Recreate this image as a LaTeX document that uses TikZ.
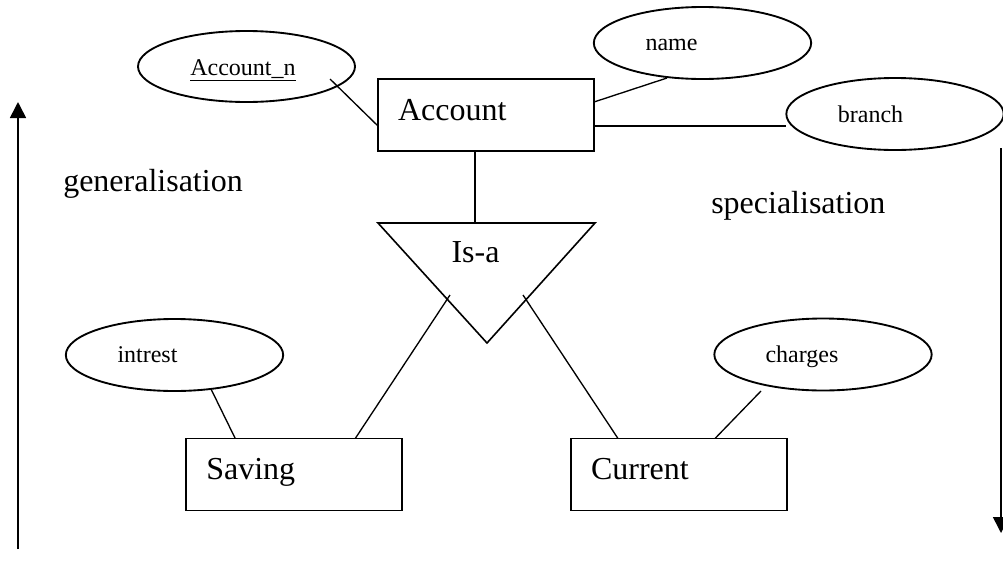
\documentclass[tikz,border=0pt]{standalone}
\usepackage{fontspec}
\setmainfont{Liberation Serif}
\usetikzlibrary{arrows.meta,shapes.geometric}
\begin{document}
\begin{tikzpicture}[x=0.75pt,y=-0.75pt,
  entity/.style={draw,rectangle,line width=1.4pt,minimum height=54pt,text width=132pt,inner xsep=15pt,inner ysep=0pt,outer sep=0pt,align=left,text height=16pt,text depth=8.5pt,font=\fontsize{24}{28}\selectfont},
  attr/.style={draw,ellipse,line width=1.4pt,minimum width=163pt,minimum height=54pt,inner sep=0pt,outer sep=0pt},
  attrtext/.style={anchor=base,inner sep=0pt,font=\fontsize{18}{21}\selectfont},
  bigtext/.style={anchor=base west,inner sep=0pt,font=\fontsize{24}{28}\selectfont},
  link/.style={line width=1pt},
  dirarrow/.style={line width=1.2pt,-{Triangle[length=12pt,width=12pt]}}
]
\fill[white] (0,0) rectangle (1003,561);
\useasboundingbox (0,0) rectangle (1003,561);

% attributes
\node[attr,minimum width=162.75pt,minimum height=53.25pt] (acctn) at (246.5,66.5) {};
\node[attrtext] (acctnt) at ([shift={(-3.5,8.5)}]acctn.center) {\underline{Account\_n}};
\node[attr] (name) at (702.5,43) {};
\node[attrtext] (namet) at ([shift={(-31,7)}]name.center) {name};
\node[attr] (branch) at (895,114) {};
\node[attrtext] (brancht) at ([shift={(-24.5,8)}]branch.center) {branch};
\node[attr] (intrest) at (174.5,355) {};
\node[attrtext] (intrestt) at ([shift={(-27,7)}]intrest.center) {intrest};
\node[attr] (charges) at (823,354.5) {};
\node[attrtext] (chargest) at ([shift={(-21,7.5)}]charges.center) {charges};

% entities
\node[entity] (acc) at (486,115) {Account};
\node[entity] (sav) at (294.25,474.5) {Saving};
\node[entity] (cur) at (679,474.5) {Current};

% is-a triangle
\coordinate (isaL) at (378,223);
\coordinate (isaR) at (595,223);
\coordinate (isaB) at (487,343);
\draw[line width=1.2pt,line join=miter] (isaL) -- (isaR) -- (isaB) -- cycle;
\node[bigtext,anchor=base] (isa) at (475.5,262) {Is-a};

% connectors
\coordinate (an1) at ([shift={(83.5,12.5)}]acctn.center);
\draw[link] (an1) -- ([shift={(0,11)}]acc.west);
\coordinate (nm1) at ([shift={(-35.5,35)}]name.center);
\draw[link] (nm1) -- ([shift={(0,-13)}]acc.east);
\coordinate (br1) at ([shift={(0,11)}]acc.east);
\draw[link] (br1) -- (br1 -| branch.west);
\coordinate (ac1) at ([shift={(-11,0)}]acc.south);
\draw[link] (ac1) -- (ac1 |- isaL);
\coordinate (isa1) at (450,295);
\coordinate (isa2) at (523,295);
\draw[link] (isa1) -- ([shift={(61,0)}]sav.north);
\draw[link] (isa2) -- ([shift={(-61,0)}]cur.north);
\coordinate (in1) at ([shift={(36.5,34)}]intrest.center);
\draw[link] (in1) -- ([shift={(-59,0)}]sav.north);
\coordinate (ch1) at ([shift={(-62,36.5)}]charges.center);
\draw[link] (ch1) -- ([shift={(36,0)}]cur.north);

% direction arrows
\coordinate (gbot) at (18,549);
\coordinate (gtop) at (18,102);
\draw[dirarrow] (gbot) -- (gtop);
\coordinate (stop) at (1001,148);
\coordinate (sbot) at (1001,533);
\draw[dirarrow] (stop) -- (sbot);
\node[bigtext] (gen) at (63,191) {generalisation};
\node[bigtext] (spec) at (711,213) {specialisation};
\end{tikzpicture}
\end{document}
